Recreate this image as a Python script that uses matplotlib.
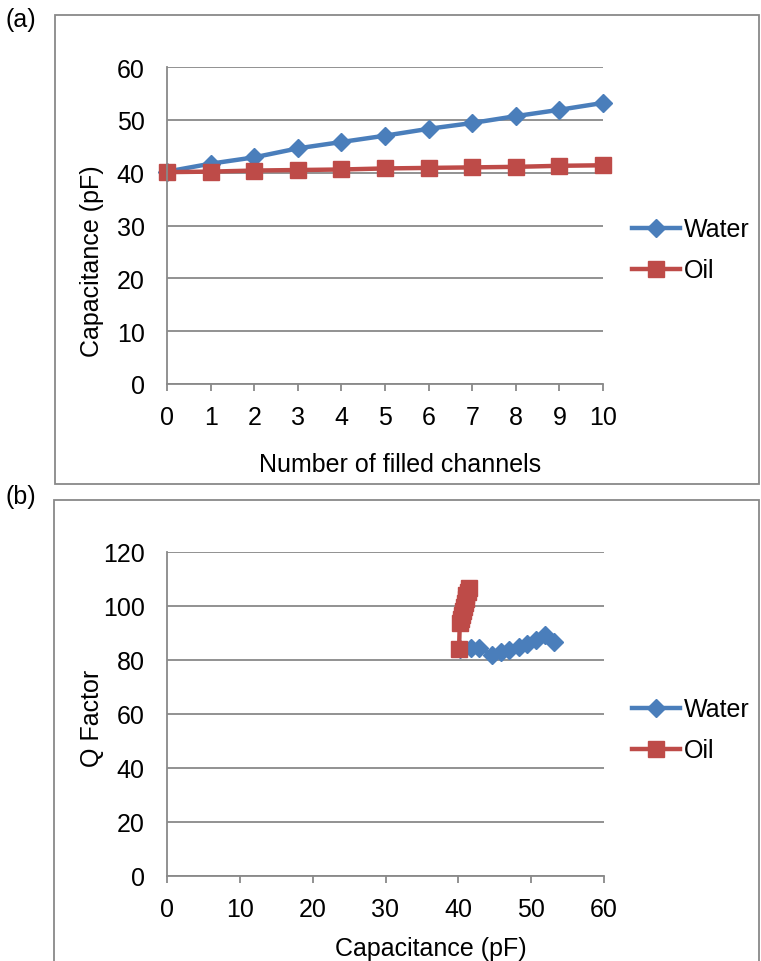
import matplotlib.pyplot as plt
from matplotlib.patches import Rectangle

# panel (a): capacitance vs number of filled channels
channels = [0, 1, 2, 3, 4, 5, 6, 7, 8, 9, 10]
cap_water = [40.2, 41.7, 42.9, 44.6, 45.8, 47.0, 48.3, 49.4, 50.7, 51.9, 53.2]
cap_oil = [40.1, 40.2, 40.4, 40.5, 40.6, 40.8, 40.9, 41.0, 41.1, 41.3, 41.4]

# panel (b): Q factor vs capacitance
q_water = [84.1, 84.3, 84.4, 81.9, 82.8, 83.7, 85.0, 86.0, 87.3, 89.4, 86.5]
q_oil = [84.1, 93.7, 95.2, 96.7, 98.1, 99.6, 101.0, 102.5, 104.0, 105.3, 106.7]

blue = '#4A7EBB'
red = '#BE4B48'
grid_col = '#898989'
fs = 18

plt.rcParams['font.family'] = ['Liberation Sans', 'DejaVu Sans']
plt.rcParams['font.size'] = fs

W, H = 761, 962
fig = plt.figure(figsize=(W / 100, H / 100), dpi=100)


def px_box(x0, y0, x1, y1):
    # pixel box (top-left origin) -> figure fraction rect
    return [x0 / W, 1 - y1 / H, (x1 - x0) / W, (y1 - y0) / H]


# outer chart frames
for (x0, y0, x1, y1) in [(55, 16, 759, 485), (54, 501, 759, 975)]:
    fig.patches.append(Rectangle((x0 / W, 1 - y1 / H), (x1 - x0) / W, (y1 - y0) / H,
                                 transform=fig.transFigure, fill=False,
                                 edgecolor=grid_col, linewidth=1.3))
fig.text(6 / W, 1 - 20 / H, '(a)', ha='left', va='center', fontsize=fs)
fig.text(6 / W, 1 - 497 / H, '(b)', ha='left', va='center', fontsize=fs)

ax1 = fig.add_axes(px_box(167, 68, 603, 385))
ax2 = fig.add_axes(px_box(167, 553, 604, 877))


def style(ax, xlim, ylim, xstep, ystep):
    ax.set_xlim(*xlim)
    ax.set_ylim(*ylim)
    ax.set_xticks(range(xlim[0], xlim[1] + 1, xstep))
    ax.set_yticks(range(ylim[0], ylim[1] + 1, ystep))
    ax.yaxis.grid(True, color=grid_col, linewidth=1.3)
    ax.set_axisbelow(True)
    for s in ['top', 'right']:
        ax.spines[s].set_visible(False)
    for s in ['left', 'bottom']:
        ax.spines[s].set_color(grid_col)
        ax.spines[s].set_linewidth(1.3)
    ax.tick_params(axis='y', length=0, pad=16, labelsize=fs)
    ax.tick_params(axis='x', length=5, width=1.3, color=grid_col, pad=10, labelsize=fs)


style(ax1, (0, 10), (0, 60), 1, 10)
style(ax2, (0, 60), (0, 120), 10, 20)

ax1.plot(channels, cap_water, color=blue, lw=3.2, marker='D', ms=9.5, label='Water', clip_on=False)
ax1.plot(channels, cap_oil, color=red, lw=3.2, marker='s', ms=11.5, label='Oil', clip_on=False)

ax2.plot(cap_water, q_water, color=blue, lw=3.2, marker='D', ms=9.5, label='Water', clip_on=False)
ax2.plot(cap_oil, q_oil, color=red, lw=3.2, marker='s', ms=11.5, label='Oil', clip_on=False)

ax1.set_xlabel('Number of filled channels', fontsize=fs)
ax1.xaxis.set_label_coords((400 - 167) / 436, (385 - 453) / 317)
ax1.set_ylabel('Capacitance (pF)', fontsize=fs)
ax1.yaxis.set_label_coords((92 - 167) / 436, (385 - 261) / 317)
ax1.yaxis.label.set_verticalalignment('center')

ax2.set_xlabel('Capacitance (pF)', fontsize=fs)
ax2.xaxis.set_label_coords((431 - 167) / 437, (877 - 937) / 324)
ax2.set_ylabel('Q Factor', fontsize=fs)
ax2.yaxis.set_label_coords((92 - 167) / 437, (877 - 718) / 324)
ax2.yaxis.label.set_verticalalignment('center')

for ax, cy in [(ax1, 251), (ax2, 731)]:
    ax.legend(loc='center left', bbox_to_anchor=(632 / W, 1 - cy / H),
              bbox_transform=fig.transFigure, frameon=False, fontsize=fs,
              handlelength=1.92, handletextpad=0.16, labelspacing=0.68,
              borderpad=0, borderaxespad=0)

fig.savefig('out.png', dpi=100)
